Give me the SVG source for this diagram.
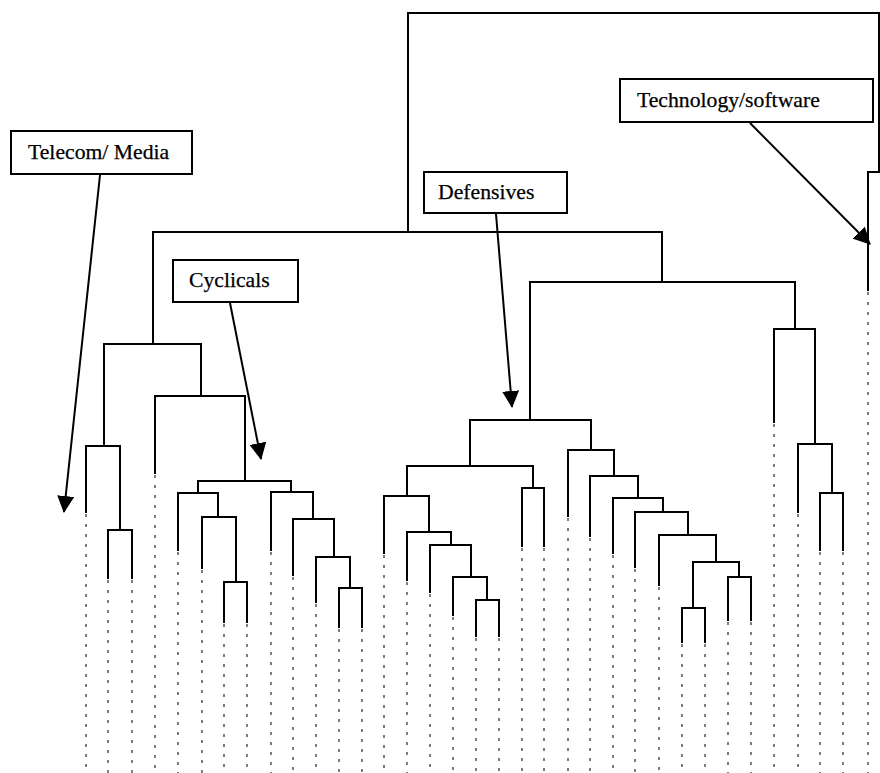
<svg xmlns="http://www.w3.org/2000/svg" width="880" height="773" viewBox="0 0 880 773">
<style>
.tree{fill:none;stroke:#000;stroke-width:2;stroke-linejoin:miter;stroke-linecap:square}
.leaf{fill:none;stroke:#444;stroke-width:1.4;stroke-dasharray:3 7}
.box{fill:#fff;stroke:#000;stroke-width:2}
.lbl{font-family:"Liberation Serif","Times New Roman",serif;font-size:21.7px;fill:#000;stroke:#000;stroke-width:0.25}
.arr{fill:none;stroke:#000;stroke-width:2;marker-end:url(#ah)}
</style>
<defs>
<marker id="ah" viewBox="0 0 17 17" markerWidth="17" markerHeight="17" refX="16" refY="8.5" orient="auto" markerUnits="userSpaceOnUse">
<path d="M0,0 L17,8.5 L0,17 z" fill="#000"/>
</marker>
</defs>
<rect width="880" height="773" fill="#fff"/>
<g id="dendrogram">
<path class="tree" d="M408 232 V13 H879 V172 H868 V290"/>
<path class="tree" d="M153 344 V232 H662 V282"/>
<path class="tree" d="M104 446 V344 H201 V396"/>
<path class="tree" d="M86 512 V446 H120 V530"/>
<path class="tree" d="M108 578 V530 H132 V578"/>
<path class="tree" d="M155 473 V396 H245 V481"/>
<path class="tree" d="M198 493 V481 H291 V492"/>
<path class="tree" d="M178 550 V493 H218 V517"/>
<path class="tree" d="M202 568 V517 H236 V582"/>
<path class="tree" d="M224 622 V582 H247 V622"/>
<path class="tree" d="M271 550 V492 H313 V519"/>
<path class="tree" d="M293 575 V519 H334 V557"/>
<path class="tree" d="M316 602 V557 H350 V588"/>
<path class="tree" d="M339 627 V588 H362 V627"/>
<path class="tree" d="M530 420 V282 H795 V329"/>
<path class="tree" d="M470 466 V420 H591 V450"/>
<path class="tree" d="M407 496 V466 H533 V488"/>
<path class="tree" d="M522 546 V488 H544 V546"/>
<path class="tree" d="M384 553 V496 H429 V532"/>
<path class="tree" d="M407 580 V532 H451 V545"/>
<path class="tree" d="M430 592 V545 H471 V577"/>
<path class="tree" d="M453 615 V577 H487 V600"/>
<path class="tree" d="M476 636 V600 H499 V636"/>
<path class="tree" d="M568 516 V450 H614 V476"/>
<path class="tree" d="M590 536 V476 H638 V498"/>
<path class="tree" d="M613 553 V498 H663 V512"/>
<path class="tree" d="M635 567 V512 H688 V535"/>
<path class="tree" d="M659 585 V535 H716 V562"/>
<path class="tree" d="M693 608 V562 H739 V577"/>
<path class="tree" d="M682 642 V608 H705 V642"/>
<path class="tree" d="M728 620 V577 H751 V620"/>
<path class="tree" d="M774 422 V329 H815 V444"/>
<path class="tree" d="M798 512 V444 H832 V493"/>
<path class="tree" d="M820 550 V493 H843 V550"/>
<path class="leaf" d="M86 514V773M108 580V773M132 580V773M155 475V773M178 552V773M202 570V773M224 624V773M247 624V773M271 552V773M293 577V773M316 604V773M339 629V773M362 629V773M384 555V773M407 582V773M430 594V773M453 617V773M476 638V773M499 638V773M522 548V773M544 548V773M568 518V773M590 538V773M613 555V773M635 569V773M659 587V773M682 644V773M705 644V773M728 622V773M751 622V773M774 424V773M798 514V773M820 552V773M843 552V773M868 292V773"/>
</g>
<g id="telecom-media">
<rect class="box" x="11" y="131" width="181" height="43"/>
<text class="lbl" x="28" y="159">Telecom/ Media</text>
</g>
<g id="technology-software">
<rect class="box" x="620" y="79" width="253" height="43"/>
<text class="lbl" x="637" y="107">Technology/software</text>
</g>
<g id="defensives">
<rect class="box" x="424" y="172" width="143" height="41"/>
<text class="lbl" x="438" y="199">Defensives</text>
</g>
<g id="cyclicals">
<rect class="box" x="173" y="260" width="125" height="42"/>
<text class="lbl" x="189" y="287">Cyclicals</text>
</g>
<g id="connectors">
<line class="arr" x1="100" y1="175" x2="64" y2="512"/>
<line class="arr" x1="230" y1="303" x2="261" y2="459"/>
<line class="arr" x1="496" y1="214" x2="512" y2="407"/>
<line class="arr" x1="750" y1="123" x2="870" y2="244"/>
</g>
</svg>
